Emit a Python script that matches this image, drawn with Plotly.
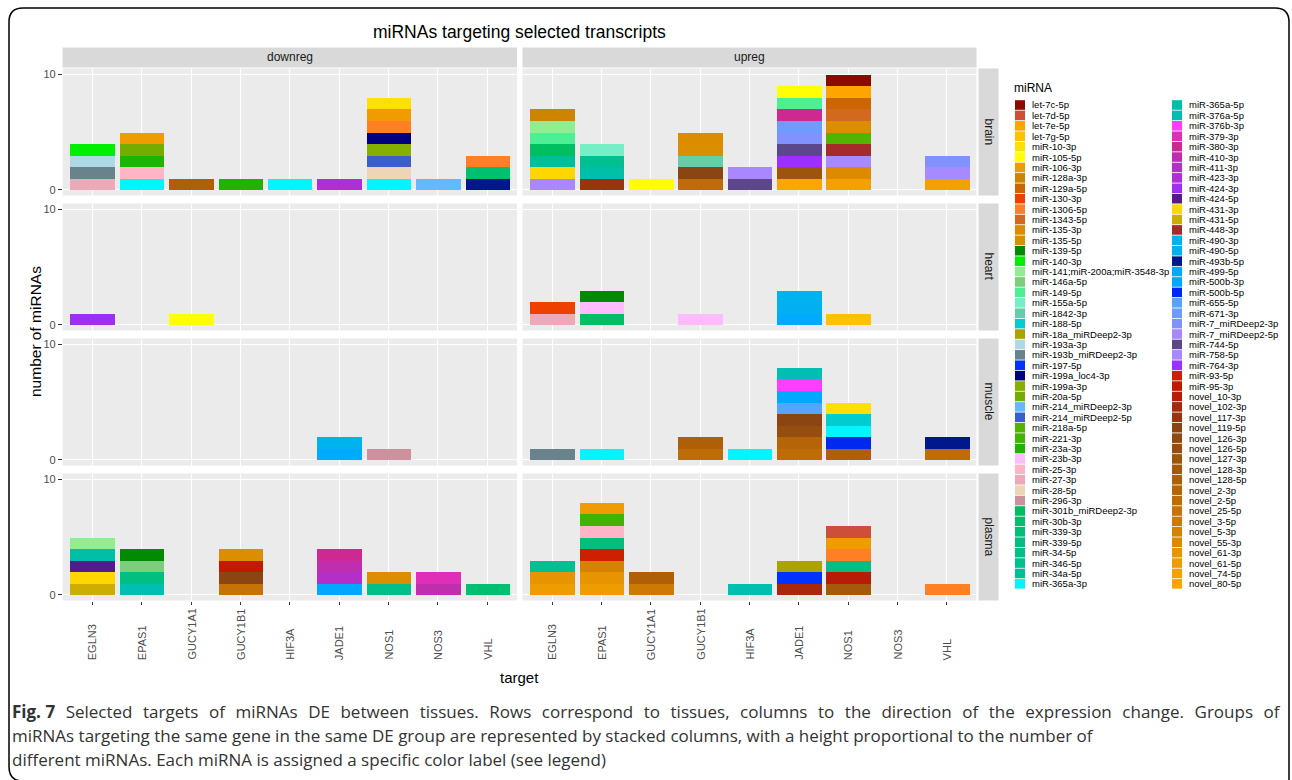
import plotly.graph_objects as go

W, H = 1292, 780

# ---------------- data ----------------
MIRNAS = [
    "let-7c-5p", "let-7d-5p", "let-7e-5p", "let-7g-5p", "miR-10-3p", "miR-105-5p",
    "miR-106-3p", "miR-128a-3p", "miR-129a-5p", "miR-130-3p", "miR-1306-5p",
    "miR-1343-5p", "miR-135-3p", "miR-135-5p", "miR-139-5p", "miR-140-3p",
    "miR-141;miR-200a;miR-3548-3p", "miR-146a-5p", "miR-149-5p", "miR-155a-5p",
    "miR-1842-3p", "miR-188-5p", "miR-18a_miRDeep2-3p", "miR-193a-3p",
    "miR-193b_miRDeep2-3p", "miR-197-5p", "miR-199a_loc4-3p", "miR-199a-3p",
    "miR-20a-5p", "miR-214_miRDeep2-3p", "miR-214_miRDeep2-5p", "miR-218a-5p",
    "miR-221-3p", "miR-23a-3p", "miR-23b-3p", "miR-25-3p", "miR-27-3p", "miR-28-5p",
    "miR-296-3p", "miR-301b_miRDeep2-3p", "miR-30b-3p", "miR-339-3p", "miR-339-5p",
    "miR-34-5p", "miR-346-5p", "miR-34a-5p", "miR-365a-3p",
    "miR-365a-5p", "miR-376a-5p", "miR-376b-3p", "miR-379-3p", "miR-380-3p",
    "miR-410-3p", "miR-411-3p", "miR-423-3p", "miR-424-3p", "miR-424-5p",
    "miR-431-3p", "miR-431-5p", "miR-448-3p", "miR-490-3p", "miR-490-5p",
    "miR-493b-5p", "miR-499-5p", "miR-500b-3p", "miR-500b-5p", "miR-655-5p",
    "miR-671-3p", "miR-7_miRDeep2-3p", "miR-7_miRDeep2-5p", "miR-744-5p",
    "miR-758-5p", "miR-764-3p", "miR-93-5p", "miR-95-3p", "novel_10-3p",
    "novel_102-3p", "novel_117-3p", "novel_119-5p", "novel_126-3p", "novel_126-5p",
    "novel_127-3p", "novel_128-3p", "novel_128-5p", "novel_2-3p", "novel_2-5p",
    "novel_25-5p", "novel_3-5p", "novel_5-3p", "novel_55-3p", "novel_61-3p",
    "novel_61-5p", "novel_74-5p", "novel_80-5p",
]

MIRNA_COLORS = [
    "#8B0A00", "#CD4F39", "#FFA500", "#FFC100", "#FFE000", "#FFFF00",
    "#F09C00", "#CD8500", "#CD6600", "#F04000", "#FF7F24",
    "#D2691E", "#DD8C00", "#DA8E00", "#008B00", "#00EE00",
    "#90EE90", "#7CCD7C", "#4EEE94", "#76EEC6",
    "#66CDAA", "#00CDCD", "#ADA300", "#ADD8E6",
    "#68838B", "#0033FF", "#000080", "#86B000",
    "#76AC00", "#63B8FF", "#3A5FCD", "#50B400",
    "#40B400", "#20B400", "#FFBBFF", "#FFB5C5", "#EEA9B8", "#EED5B7",
    "#CD919E", "#00BF60", "#00BF70", "#00BF78", "#00BF80",
    "#00BF88", "#00BF90", "#00BF98", "#00F5FF",
    "#00BFA8", "#00BFB0", "#FF3EFF", "#E02EB8", "#CD2990",
    "#C02EB0", "#B42EC8", "#AE2ED8", "#A02EF0", "#551A8B",
    "#FFD700", "#CDAD00", "#A52A2A", "#00B2EE", "#00B0F0",
    "#00188B", "#00AAFF", "#00A8FF", "#0028F0", "#55A5FF",
    "#6E9BFF", "#7F92FF", "#A987FF", "#5D478B",
    "#A78AFF", "#9B30FF", "#CD2000", "#C21A00", "#B71C08",
    "#A8280C", "#983410", "#8B4513", "#8F4A12", "#964E10",
    "#9D540C", "#A5590A", "#AE5F08", "#B56508", "#BE6C08",
    "#C57306", "#CD7A04", "#D58202", "#DD8A00", "#E69400",
    "#EE9C00", "#F6A000", "#FFA500",
]

TARGETS = ["EGLN3", "EPAS1", "GUCY1A1", "GUCY1B1", "HIF3A", "JADE1", "NOS1", "NOS3", "VHL"]
TISSUES = ["brain", "heart", "muscle", "plasma"]
DIRECTIONS = ["downreg", "upreg"]
Y_TICKS = [0, 10]

# miRNAs per target, listed top-to-bottom of each stacked column (each = 1 miRNA)
brain_downreg = {
    "EGLN3": ["miR-140-3p", "miR-193a-3p", "miR-193b_miRDeep2-3p", "miR-27-3p"],
    "EPAS1": ["miR-106-3p", "miR-20a-5p", "miR-23a-3p", "miR-25-3p", "miR-365a-3p"],
    "GUCY1A1": ["novel_128-5p"],
    "GUCY1B1": ["miR-23a-3p"],
    "HIF3A": ["miR-365a-3p"],
    "JADE1": ["miR-423-3p"],
    "NOS1": ["miR-10-3p", "miR-106-3p", "miR-1306-5p", "miR-199a_loc4-3p", "miR-199a-3p",
             "miR-214_miRDeep2-5p", "miR-28-5p", "miR-365a-3p"],
    "NOS3": ["miR-214_miRDeep2-3p"],
    "VHL": ["miR-1306-5p", "miR-30b-3p", "miR-493b-5p"],
}
brain_upreg = {
    "EGLN3": ["miR-128a-3p", "miR-141;miR-200a;miR-3548-3p", "miR-149-5p", "miR-301b_miRDeep2-3p",
              "miR-34a-5p", "miR-431-3p", "miR-7_miRDeep2-5p"],
    "EPAS1": ["miR-155a-5p", "miR-346-5p", "miR-365a-5p", "novel_117-3p"],
    "GUCY1A1": ["miR-105-5p"],
    "GUCY1B1": ["miR-135-3p", "miR-135-5p", "miR-1842-3p", "novel_119-5p", "novel_2-5p"],
    "HIF3A": ["miR-7_miRDeep2-5p", "miR-744-5p"],
    "JADE1": ["miR-105-5p", "miR-149-5p", "miR-380-3p", "miR-671-3p", "miR-7_miRDeep2-3p",
              "miR-744-5p", "miR-764-3p", "novel_127-3p", "novel_80-5p"],
    "NOS1": ["let-7c-5p", "let-7e-5p", "miR-129a-5p", "miR-1343-5p", "miR-135-5p", "miR-218a-5p",
             "miR-448-3p", "miR-758-5p", "novel_55-3p", "novel_74-5p"],
    "VHL": ["miR-7_miRDeep2-3p", "miR-758-5p", "novel_74-5p"],
}
heart_downreg = {
    "EGLN3": ["miR-424-3p"],
    "GUCY1A1": ["miR-105-5p"],
}
heart_upreg = {
    "EGLN3": ["miR-130-3p", "miR-27-3p"],
    "EPAS1": ["miR-139-5p", "miR-23b-3p", "miR-301b_miRDeep2-3p"],
    "GUCY1B1": ["miR-23b-3p"],
    "JADE1": ["miR-490-3p", "miR-490-5p", "miR-499-5p"],
    "NOS1": ["let-7g-5p"],
}
muscle_downreg = {
    "JADE1": ["miR-490-3p", "miR-499-5p"],
    "NOS1": ["miR-296-3p"],
}
muscle_upreg = {
    "EGLN3": ["miR-193b_miRDeep2-3p"],
    "EPAS1": ["miR-365a-3p"],
    "GUCY1B1": ["novel_128-5p", "novel_2-5p"],
    "HIF3A": ["miR-365a-3p"],
    "JADE1": ["miR-376a-5p", "miR-376b-3p", "miR-500b-3p", "miR-655-5p", "novel_119-5p",
              "novel_126-5p", "novel_2-3p", "novel_2-5p"],
    "NOS1": ["miR-10-3p", "miR-188-5p", "miR-365a-3p", "miR-500b-5p", "novel_128-5p"],
    "VHL": ["miR-493b-5p", "novel_2-5p"],
}
plasma_downreg = {
    "EGLN3": ["miR-141;miR-200a;miR-3548-3p", "miR-365a-5p", "miR-424-5p", "miR-431-3p", "miR-431-5p"],
    "EPAS1": ["miR-139-5p", "miR-146a-5p", "miR-339-5p", "miR-376a-5p"],
    "GUCY1B1": ["miR-135-5p", "miR-95-3p", "novel_119-5p", "novel_25-5p"],
    "JADE1": ["miR-380-3p", "miR-410-3p", "miR-411-3p", "miR-500b-3p"],
    "NOS1": ["miR-135-5p", "miR-34-5p"],
    "NOS3": ["miR-379-3p", "miR-410-3p"],
    "VHL": ["miR-30b-3p"],
}
plasma_upreg = {
    "EGLN3": ["miR-346-5p", "novel_61-3p", "novel_61-5p"],
    "EPAS1": ["miR-106-3p", "miR-221-3p", "miR-25-3p", "miR-339-3p", "miR-93-5p", "novel_5-3p",
              "novel_61-3p", "novel_61-5p"],
    "GUCY1A1": ["novel_128-5p", "novel_3-5p"],
    "HIF3A": ["miR-376a-5p"],
    "JADE1": ["miR-18a_miRDeep2-3p", "miR-197-5p", "novel_102-3p"],
    "NOS1": ["let-7d-5p", "miR-106-3p", "miR-1306-5p", "miR-339-5p", "novel_10-3p", "novel_128-3p"],
    "VHL": ["miR-1306-5p"],
}

PANEL_DATA = {
    ("brain", "downreg"): brain_downreg, ("brain", "upreg"): brain_upreg,
    ("heart", "downreg"): heart_downreg, ("heart", "upreg"): heart_upreg,
    ("muscle", "downreg"): muscle_downreg, ("muscle", "upreg"): muscle_upreg,
    ("plasma", "downreg"): plasma_downreg, ("plasma", "upreg"): plasma_upreg,
}

TITLE = "miRNAs targeting selected transcripts"
CAPTION = [
    "<b>Fig. 7</b> Selected targets of miRNAs DE between tissues. Rows correspond to tissues, columns to the direction of the expression change. Groups of",
    "miRNAs targeting the same gene in the same DE group are represented by stacked columns, with a height proportional to the number of",
    "different miRNAs. Each miRNA is assigned a specific color label (see legend)",
]

# ---------------- layout geometry (pixels) ----------------
def xp(px):
    return px / W


def yp(py):
    return 1 - py / H


COL_X = [(62.6, 517.0), (522.5, 976.5)]
ROW_Y = [(68.5, 195.5), (203.5, 330.5), (338.5, 465.5), (473.5, 600.5)]
STRIP_TOP = (47.5, 67.5)
STRIP_RIGHT = (978.5, 998.5)
FONT = "Liberation Sans, Arial, sans-serif"
color_of = dict(zip(MIRNAS, MIRNA_COLORS))
order_of = {m: i for i, m in enumerate(MIRNAS)}

fig = go.Figure()
shapes = []
annotations = []
layout_axes = {}

for r, tissue in enumerate(TISSUES):
    for c, direction in enumerate(DIRECTIONS):
        k = r * 2 + c + 1
        xa = "x" if k == 1 else f"x{k}"
        ya = "y" if k == 1 else f"y{k}"
        data = PANEL_DATA[(tissue, direction)]
        segs = {}
        for target, mirs in data.items():
            ordered = sorted(mirs, key=lambda m: order_of[m])
            n = len(ordered)
            for i, m in enumerate(ordered):
                segs.setdefault(m, ([], []))
                segs[m][0].append(TARGETS.index(target))
                segs[m][1].append(n - 1 - i)
        for m in sorted(segs, key=lambda m: order_of[m]):
            xs, bases = segs[m]
            fig.add_trace(go.Bar(
                x=xs, y=[1] * len(xs), base=bases, width=0.9,
                marker=dict(color=color_of[m], line=dict(width=0)),
                name=m, showlegend=False, xaxis=xa, yaxis=ya,
                customdata=[TARGETS[x] for x in xs],
                hovertemplate=f"{m}<br>%{{customdata}}<extra></extra>",
            ))
        x0, x1 = COL_X[c]
        y0, y1 = ROW_Y[r]
        layout_axes["xaxis" if k == 1 else f"xaxis{k}"] = dict(
            domain=[xp(x0), xp(x1)], anchor=ya, range=[-0.6, 8.6],
            tickvals=list(range(len(TARGETS))), showticklabels=False,
            ticks="outside" if r == 3 else "", ticklen=3.7, tickcolor="#333333", tickwidth=1,
            showgrid=True, gridcolor="white", gridwidth=1.2, zeroline=False,
            showline=False, fixedrange=True,
        )
        layout_axes["yaxis" if k == 1 else f"yaxis{k}"] = dict(
            domain=[yp(y1), yp(y0)], anchor=xa, range=[-0.5, 10.5],
            tickvals=Y_TICKS, showticklabels=(c == 0),
            ticks="outside" if c == 0 else "", ticklen=3.7, tickcolor="#333333", tickwidth=1,
            tickfont=dict(family=FONT, size=11, color="#4D4D4D"),
            showgrid=True, gridcolor="white", gridwidth=1.2, zeroline=False,
            showline=False, fixedrange=True,
        )
        if r == 3:
            for i, t in enumerate(TARGETS):
                annotations.append(dict(
                    x=i, y=yp(662), xref=xa, yref="paper", text=t, showarrow=False,
                    textangle=-90, xanchor="center", yanchor="bottom",
                    font=dict(family=FONT, size=11, color="#4D4D4D"),
                ))

# top strips
for c, direction in enumerate(DIRECTIONS):
    x0, x1 = COL_X[c]
    shapes.append(dict(type="rect", xref="paper", yref="paper", x0=xp(x0), x1=xp(x1),
                       y0=yp(STRIP_TOP[1]), y1=yp(STRIP_TOP[0]), fillcolor="#D9D9D9",
                       line=dict(width=0), layer="below"))
    annotations.append(dict(x=xp((x0 + x1) / 2), y=yp(sum(STRIP_TOP) / 2), xref="paper", yref="paper",
                            text=direction, showarrow=False, xanchor="center", yanchor="middle",
                            font=dict(family=FONT, size=12, color="#1A1A1A")))
# right strips
for r, tissue in enumerate(TISSUES):
    y0, y1 = ROW_Y[r]
    shapes.append(dict(type="rect", xref="paper", yref="paper", x0=xp(STRIP_RIGHT[0]), x1=xp(STRIP_RIGHT[1]),
                       y0=yp(y1), y1=yp(y0), fillcolor="#D9D9D9", line=dict(width=0), layer="below"))
    annotations.append(dict(x=xp(sum(STRIP_RIGHT) / 2), y=yp((y0 + y1) / 2), xref="paper", yref="paper",
                            text=tissue, showarrow=False, textangle=90, xanchor="center", yanchor="middle",
                            font=dict(family=FONT, size=12, color="#1A1A1A")))

# titles
annotations.append(dict(x=xp(519), y=yp(32), xref="paper", yref="paper", text=TITLE, showarrow=False,
                        xanchor="center", yanchor="middle", font=dict(family=FONT, size=17.5, color="black")))
annotations.append(dict(x=xp(519), y=yp(677), xref="paper", yref="paper", text="target", showarrow=False,
                        xanchor="center", yanchor="middle", font=dict(family=FONT, size=15, color="black")))
annotations.append(dict(x=xp(35), y=yp(332), xref="paper", yref="paper", text="number of miRNAs",
                        showarrow=False, textangle=-90, xanchor="center", yanchor="middle",
                        font=dict(family=FONT, size=15.5, color="black")))

# manual two-column legend
annotations.append(dict(x=xp(1012), y=yp(88), xref="paper", yref="paper", text="miRNA", showarrow=False,
                        xanchor="left", yanchor="middle", font=dict(family=FONT, size=12, color="black")))
per_col = 47
for i, (m, col) in enumerate(zip(MIRNAS, MIRNA_COLORS)):
    cc, ri = divmod(i, per_col)
    kx = 1015 if cc == 0 else 1172
    cy = 105 + ri * 10.41
    shapes.append(dict(type="rect", xref="paper", yref="paper", x0=xp(kx), x1=xp(kx + 10),
                       y0=yp(cy + 4.8), y1=yp(cy - 4.8), fillcolor=col, line=dict(width=0)))
    annotations.append(dict(x=xp(kx + 15), y=yp(cy), xref="paper", yref="paper", text=m, showarrow=False,
                            xanchor="left", yanchor="middle",
                            font=dict(family=FONT, size=9.5, color="black")))

# caption (first line justified by widening the word gaps)
for i, line in enumerate(CAPTION):
    txt = line.replace(" ", " \u00a0\u200a") if i == 0 else line
    txt = txt.replace("<b>Fig. \u00a0\u200a7</b>", "<b>Fig. 7</b>")
    annotations.append(dict(x=xp(10), y=yp(711 + i * 24), xref="paper", yref="paper", text=txt,
                            showarrow=False, xanchor="left", yanchor="middle",
                            font=dict(family="Open Sans, sans-serif", size=17, color="#333333")))

# frame with rounded corners
L, T, R, B, rad = 9, 8, 1289, 781, 14
path = (f"M {xp(L)},{yp(B - rad)} L {xp(L)},{yp(T + rad)} Q {xp(L)},{yp(T)} {xp(L + rad)},{yp(T)} "
        f"L {xp(R - rad)},{yp(T)} Q {xp(R)},{yp(T)} {xp(R)},{yp(T + rad)} L {xp(R)},{yp(B)}"
        f" M {xp(L)},{yp(B - rad)} Q {xp(L)},{yp(B)} {xp(L + rad)},{yp(B)}")
shapes.append(dict(type="path", xref="paper", yref="paper", path=path, line=dict(color="black", width=1.5)))

fig.update_layout(
    width=W, height=H, margin=dict(l=0, r=0, t=0, b=0),
    paper_bgcolor="white", plot_bgcolor="#EBEBEB",
    barmode="overlay", bargap=0, showlegend=False,
    shapes=shapes, annotations=annotations,
    font=dict(family=FONT),
    **layout_axes,
)

fig.write_html("out.html")
